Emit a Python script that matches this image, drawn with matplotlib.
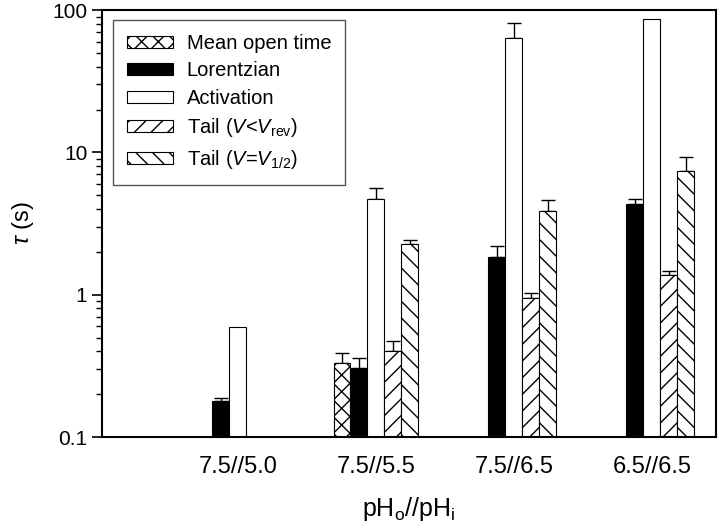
import numpy as np
import matplotlib
matplotlib.use("Agg")
import matplotlib.pyplot as plt
from matplotlib.ticker import FuncFormatter, LogLocator, NullFormatter

plt.rcParams['font.family'] = ['Liberation Sans', 'DejaVu Sans']
plt.rcParams['mathtext.fontset'] = 'custom'
plt.rcParams['mathtext.rm'] = 'Liberation Sans'
plt.rcParams['mathtext.it'] = 'Liberation Sans:italic'
plt.rcParams['hatch.linewidth'] = 1.0

# データ
groups = ['7.5//5.0', '7.5//5.5', '7.5//6.5', '6.5//6.5']
series_names = ['Mean open time', 'Lorentzian', 'Activation',
                r'Tail ($V$<$V_\mathrm{rev}$)', r'Tail ($V$=$V_{1/2}$)']
mean_open_time = [np.nan, 0.33, np.nan, np.nan]
mean_open_time_err = [0, 0.058, 0, 0]
lorentzian = [0.179, 0.305, 1.84, 4.34]
lorentzian_err = [0.009, 0.054, 0.36, 0.36]
activation = [0.59, 4.70, 63.7, 86.5]
activation_err = [0, 0.92, 17.3, 0]
tail_rev = [np.nan, 0.40, 0.95, 1.375]
tail_rev_err = [0, 0.071, 0.08, 0.095]
tail_half = [np.nan, 2.27, 3.87, 7.40]
tail_half_err = [0, 0.16, 0.76, 1.88]

values = [mean_open_time, lorentzian, activation, tail_rev, tail_half]
errors = [mean_open_time_err, lorentzian_err, activation_err, tail_rev_err, tail_half_err]
facecolors = ['white', 'black', 'white', 'white', 'white']
hatches = ['xx', None, None, '//', '\\\\']

fig = plt.figure(figsize=(7.2, 5.28), dpi=100)
ax = fig.add_axes([0.1417, 0.1723, 0.8527, 0.8087])

x = np.arange(1, len(groups) + 1)
width = 0.123
for i, (vals, errs) in enumerate(zip(values, errors)):
    pos = x + (i - 2) * width
    vals = np.array(vals, dtype=float)
    ax.bar(pos, vals, width, color=facecolors[i], edgecolor='black',
           linewidth=0.8, hatch=hatches[i], label=series_names[i], zorder=2)
    # 上側のみの誤差棒
    mask = np.array(errs) > 0
    ax.errorbar(pos[mask], vals[mask], yerr=[np.zeros(mask.sum()), np.array(errs)[mask]],
                fmt='none', ecolor='black', elinewidth=1, capsize=5, capthick=1, zorder=1)

ax.set_yscale('log')
ax.set_ylim(0.1, 100)
ax.set_xlim(0.015, 4.464)
ax.set_xticks(x)
ax.set_xticklabels(groups, fontsize=17)
ax.tick_params(axis='x', length=0, pad=14)
ax.yaxis.set_major_formatter(FuncFormatter(lambda v, p: '%g' % v))
ax.yaxis.set_minor_locator(LogLocator(base=10, subs=np.arange(2, 10)))
ax.yaxis.set_minor_formatter(NullFormatter())
ax.tick_params(axis='y', which='major', direction='out', length=7, width=1.2, labelsize=15)
ax.tick_params(axis='y', which='minor', direction='out', length=4, width=1)

for side in ['left', 'bottom', 'top', 'right']:
    ax.spines[side].set_linewidth(1.5)

ax.set_xlabel(r'pH$_\mathrm{o}$//pH$_\mathrm{i}$', fontsize=18, labelpad=12)
ax.set_ylabel(r'$\tau$ (s)', fontsize=17, labelpad=12)

leg = ax.legend(loc='upper left', bbox_to_anchor=(0.018, 0.977), borderaxespad=0,
                fontsize=14.5, fancybox=False, edgecolor='#555555', framealpha=1,
                handlelength=2.3, handleheight=0.55, handletextpad=0.65,
                labelspacing=0.42, borderpad=0.7)
leg.get_frame().set_linewidth(1.0)

fig.savefig('out.png', dpi=100)
